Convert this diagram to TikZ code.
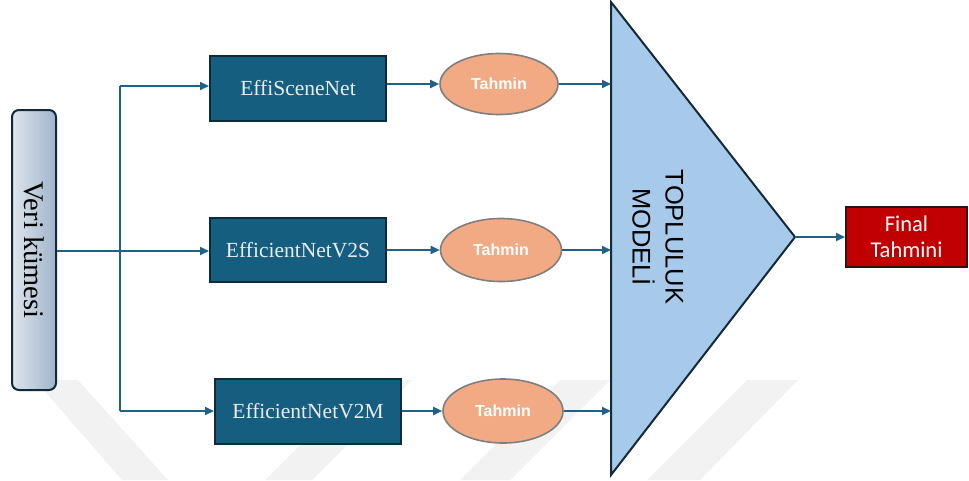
\documentclass[tikz,border=0pt]{standalone}
\usepackage{fontspec}
\setmainfont{Liberation Serif}
\setsansfont{Liberation Sans}
\newfontfamily\carlito{Carlito}
\usetikzlibrary{arrows.meta,shapes.geometric}
\definecolor{boxfill}{RGB}{22,94,128}
\definecolor{boxborder}{RGB}{15,42,58}
\definecolor{linecol}{RGB}{31,98,133}
\definecolor{ellfill}{RGB}{242,170,132}
\definecolor{ellborder}{RGB}{127,127,127}
\definecolor{trifill}{RGB}{167,202,235}
\definecolor{triborder}{RGB}{20,41,58}
\definecolor{finfill}{RGB}{192,0,0}
\definecolor{finborder}{RGB}{45,20,20}
\definecolor{vleft}{RGB}{222,229,237}
\definecolor{vright}{RGB}{160,180,201}
\definecolor{wm}{RGB}{242,242,242}
\definecolor{boxtext}{RGB}{232,236,240}
\tikzset{
  modelbox/.style={draw=boxborder, line width=2pt, fill=boxfill, text=boxtext,
    font=\fontsize{21.5}{24}\selectfont, inner sep=0pt},
  predell/.style={ellipse, draw=ellborder, line width=1.6pt, fill=ellfill, text=white,
    font=\sffamily\bfseries\fontsize{16}{18}\selectfont, inner sep=0pt},
  conn/.style={draw=linecol, line width=1.9pt},
  arr/.style={conn, -{Triangle[length=9pt,width=8pt]}},
}
\begin{document}
\begin{tikzpicture}[x=1pt,y=-1pt]
\useasboundingbox (0,0) rectangle (969,480);
% watermark bands
\fill[wm] (35,380) -- (78,380) -- (168,480) -- (122,480) -- cycle;
\fill[wm] (365,380) -- (412,380) -- (312,480) -- (265,480) -- cycle;
\fill[wm] (560,380) -- (610,380) -- (510,480) -- (460,480) -- cycle;
\fill[wm] (747,380) -- (798,380) -- (700,480) -- (647,480) -- cycle;
% data box
\node[draw=boxborder, line width=2pt, rounded corners=7pt, left color=vleft, right color=vright,
  minimum width=44pt, minimum height=280pt, inner sep=0pt] (veri) at (34,250) {};
\node[rotate=-90, font=\fontsize{28.5}{32}\selectfont] (veritext) at (veri.center) {Veri kümesi};
% model boxes
\node[modelbox, minimum width=176pt, minimum height=65pt] (m1) at (298,88) {EffiSceneNet};
\node[modelbox, minimum width=176pt, minimum height=64pt] (m2) at (298,250) {EfficientNetV2S};
\node[modelbox, minimum width=186pt, minimum height=65pt] (m3) at (308,411) {EfficientNetV2M};
% prediction ellipses
\node[predell, minimum width=118pt, minimum height=61pt] (e1) at (499,84) {Tahmin};
\node[predell, minimum width=121pt, minimum height=63pt] (e2) at (501,250) {Tahmin};
\node[predell, minimum width=120pt, minimum height=64pt] (e3) at (503,411) {Tahmin};
% triangle
\coordinate (tA) at (611,2);
\coordinate (tB) at (611,475);
\coordinate (tC) at (795,237);
\draw[fill=trifill, draw=triborder, line width=2pt, line join=miter] (tA) -- (tC) -- (tB) -- cycle;
\node[rotate=-90, align=center, font=\sffamily\fontsize{25.5}{33}\selectfont] (toplu) at (658,237) {TOPLULUK\\MODELİ};
% final box
\node[draw=finborder, line width=2pt, fill=finfill, text=white, align=center,
  minimum width=121pt, minimum height=60pt, inner sep=0pt,
  font=\carlito\fontsize{22.5}{26}\selectfont] (fin) at (906.5,237) {Final\\Tahmini};
% connectors
\coordinate (j) at (120,251);
\coordinate (jt) at (120,86);
\coordinate (jb) at (120,411);
\draw[conn] (veri.east |- j) -- (j);
\draw[conn] (jt) -- (jb);
\draw[arr] (jt) -- (jt -| m1.west);
\draw[arr] (j) -- (j -| m2.west);
\draw[arr] (jb) -- (jb -| m3.west);
\draw[arr] (m1.east |- e1.west) -- (e1.west);
\draw[arr] (m2.east |- e2.west) -- (e2.west);
\draw[arr] (m3.east |- e3.west) -- (e3.west);
\draw[arr] (e1.east) -- (e1.east -| tA);
\draw[arr] (e2.east) -- (e2.east -| tA);
\draw[arr] (e3.east) -- (e3.east -| tA);
\draw[arr] (tC) -- (fin.west);
\end{tikzpicture}
\end{document}
